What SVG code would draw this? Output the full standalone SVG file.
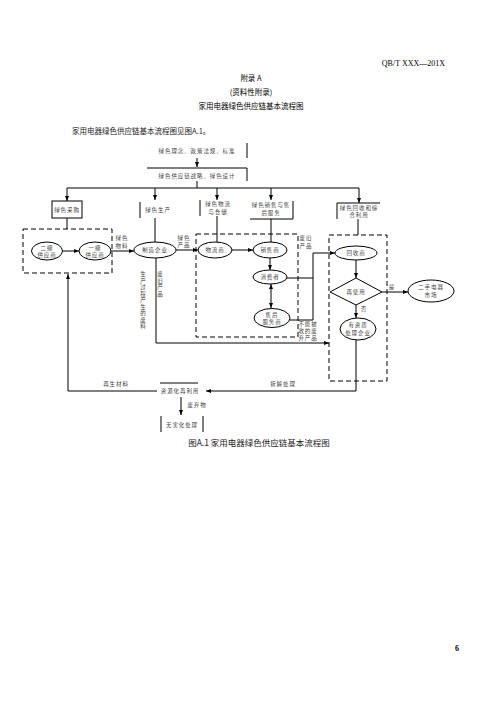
<svg xmlns="http://www.w3.org/2000/svg" width="496" height="702" viewBox="0 0 496 702">
<style>
.cj{font-family:"Noto Sans CJK SC","Noto Sans",sans-serif;}
.t{font-family:"Noto Sans CJK SC","Noto Sans",sans-serif;font-size:5.5px;letter-spacing:0.9px;fill:#444;text-anchor:middle;}
.v{font-family:"Noto Sans CJK SC","Noto Sans",sans-serif;font-size:5.5px;fill:#444;text-anchor:middle;}
.ln{stroke:#000;stroke-width:1;fill:none;}
.ds{stroke:#000;stroke-width:1;fill:none;stroke-dasharray:5,3;}
.el{stroke:#000;stroke-width:1;fill:#fff;}
.ar{marker-end:url(#ah);}
</style>
<defs>
<marker id="ah" viewBox="0 0 10 8" refX="10" refY="4" markerWidth="5" markerHeight="4" orient="auto-start-reverse" markerUnits="userSpaceOnUse"><path d="M0,0 L10,4 L0,8 z" fill="#000"/></marker>
</defs>
<rect width="496" height="702" fill="#fff"/>
<text x="445" y="66" font-family="Liberation Serif,serif" font-size="8" text-anchor="end" fill="#000">QB/T XXX—201X</text>
<g class="cj" font-size="7.5" text-anchor="middle" fill="#000">
<text x="251" y="81">附录 A</text>
<text x="251" y="95">(资料性附录)</text>
<text x="251" y="109">家用电器绿色供应链基本流程图</text>
</g>
<text class="cj" x="72" y="134" font-size="7.5" fill="#222">家用电器绿色供应链基本流程图见图A.1。</text>

<g id="connectors">
<line class="ln ar" x1="197" y1="158" x2="197" y2="167"/>
<line class="ln" x1="197" y1="181" x2="197" y2="188"/>
<line class="ln" x1="67" y1="188" x2="359" y2="188"/>
<line class="ln ar" x1="67" y1="188" x2="67" y2="201"/>
<line class="ln ar" x1="155" y1="188" x2="155" y2="200"/>
<line class="ln ar" x1="217" y1="188" x2="217" y2="200"/>
<line class="ln ar" x1="271" y1="188" x2="271" y2="200"/>
<line class="ln ar" x1="359" y1="188" x2="359" y2="203"/>
<line class="ln" x1="67" y1="218" x2="67" y2="229"/>
<line class="ln" x1="155" y1="218" x2="155" y2="242"/>
<line class="ln" x1="217" y1="216" x2="217" y2="242"/>
<line class="ln" x1="271" y1="219" x2="271" y2="242"/>
<line class="ln" x1="358" y1="219" x2="358" y2="235"/>
<line class="ln ar" x1="62.5" y1="251" x2="79" y2="251"/>
<line class="ln ar" x1="111" y1="251" x2="134" y2="251"/>
<line class="ln ar" x1="176" y1="250" x2="198" y2="250"/>
<line class="ln ar" x1="232" y1="250" x2="253" y2="250"/>
<line class="ln ar" x1="270" y1="258" x2="270" y2="270"/>
<line class="ln ar" x1="271" y1="284" x2="271" y2="308" marker-start="url(#ah)"/>
<polyline class="ln" points="287,278 313,278"/>
<polyline class="ln ar" points="290,320 313,320 313,253 335,253"/>
<polyline class="ln ar" points="156,258 156,343 329,343"/>
<line class="ln ar" x1="356" y1="260" x2="356" y2="278"/>
<line class="ln ar" x1="382" y1="292" x2="408" y2="292"/>
<line class="ln ar" x1="356" y1="305" x2="356" y2="318"/>
<polyline class="ln ar" points="356,340 356,391 206,391"/>
<polyline class="ln ar" points="157,391 68,391 68,274"/>
<line class="ln ar" x1="181" y1="397" x2="181" y2="415"/>
<g class="t">
<text x="122" y="240">绿色</text><text x="122" y="248">物料</text>
<text x="184" y="240">绿色</text><text x="184" y="247">产品</text>
<text x="306" y="240">废旧</text><text x="306" y="248">产品</text>
<text x="308" y="326">不能被</text><text x="308" y="333">收的废</text><text x="308" y="340">弃产品</text>
<text x="392" y="289">是</text>
<text x="364" y="311">否</text>
<text x="283" y="386">拆解处理</text>
<text x="116" y="386">再生材料</text>
<text x="197" y="407">废弃物</text>
</g>
<g class="v">
<text x="143" y="276">生</text><text x="143" y="282.5">产</text><text x="143" y="289">过</text><text x="143" y="295.5">程</text><text x="143" y="302">产</text><text x="143" y="308.5">生</text><text x="143" y="315">的</text><text x="143" y="321.5">废</text><text x="143" y="328">料</text>
<text x="160" y="276">废</text><text x="160" y="282.5">旧</text><text x="160" y="289">产</text><text x="160" y="295.5">品</text>
</g>
</g>

<g id="n-idea"><line class="ln" x1="247" y1="143" x2="247" y2="158"/><text class="t" x="197" y="153">绿色理念、政策法规、标准</text></g>
<g id="n-strategy"><polyline class="ln" points="147,168 247,168 247,181"/><text class="t" x="197" y="178">绿色供应链战略、绿色设计</text></g>
<g id="n-purchase"><rect class="ln" x="52" y="201" width="30" height="17"/><text class="t" x="67" y="211.5">绿色采购</text></g>
<g id="n-produce"><line class="ln" x1="140" y1="202" x2="140" y2="218"/><text class="t" x="158" y="211.5">绿色生产</text></g>
<g id="n-logistics"><line class="ln" x1="200" y1="200" x2="200" y2="216"/><text class="t" x="218" y="206">绿色物流</text><text class="t" x="218" y="214">与仓储</text></g>
<g id="n-sales"><polyline class="ln" points="250,219 293,219 293,201"/><text class="t" x="271" y="207">绿色销售与售</text><text class="t" x="271" y="215">后服务</text></g>
<g id="n-recycle"><polyline class="ln" points="337,219 337,203 380,203"/><text class="t" x="359" y="210">绿色回收和综</text><text class="t" x="359" y="217">合利用</text></g>

<g id="g-suppliers"><rect class="ds" x="23" y="229" width="89" height="44"/></g>
<g id="n-sup2"><ellipse class="el" cx="47" cy="251" rx="15.5" ry="9"/><text class="t" x="47" y="250">二级</text><text class="t" x="47" y="257">供应商</text></g>
<g id="n-sup1"><ellipse class="el" cx="95" cy="251" rx="16" ry="9"/><text class="t" x="95" y="250">一级</text><text class="t" x="95" y="257">供应商</text></g>
<g id="n-maker"><ellipse class="el" cx="155" cy="250" rx="21" ry="8"/><text class="t" x="155" y="252">制造企业</text></g>

<g id="g-market"><rect class="ds" x="196" y="234" width="102" height="103"/></g>
<g id="n-logis"><ellipse class="el" cx="215" cy="250" rx="17" ry="8"/><text class="t" x="215" y="252">物流商</text></g>
<g id="n-seller"><ellipse class="el" cx="270" cy="250" rx="17" ry="8"/><text class="t" x="270" y="252">销售商</text></g>
<g id="n-consumer"><ellipse class="el" cx="270" cy="277" rx="17" ry="7"/><text class="t" x="270" y="279">消费者</text></g>
<g id="n-service"><ellipse class="el" cx="272" cy="318" rx="18" ry="9.5"/><text class="t" x="272" y="316.5">售后</text><text class="t" x="272" y="324">服务商</text></g>

<g id="g-recycling"><rect class="ds" x="329" y="235" width="58" height="146"/></g>
<g id="n-collector"><ellipse class="el" cx="356" cy="253" rx="21" ry="7"/><text class="t" x="356" y="255">回收商</text></g>
<g id="n-reuse"><polygon class="el" points="356,278 382,292 356,305 330,292"/><text class="t" x="356" y="294">再使用</text></g>
<g id="n-second"><ellipse class="el" cx="431" cy="291" rx="23" ry="11"/><text class="t" x="431" y="289">二手电器</text><text class="t" x="431" y="296.5">市场</text></g>
<g id="n-dispose"><ellipse class="el" cx="358" cy="329" rx="18" ry="11"/><text class="t" x="358" y="327">有资质</text><text class="t" x="358" y="334.5">处理企业</text></g>

<g id="n-resource"><line class="ln" x1="160" y1="383" x2="198" y2="383"/><text class="t" x="180" y="393">资源化再利用</text></g>
<g id="n-harmless"><line class="ln" x1="161" y1="416" x2="161" y2="432"/><line class="ln" x1="203" y1="416" x2="203" y2="432"/><text class="t" x="182" y="426.5">无害化处理</text></g>

<text class="cj" x="259" y="446" font-size="8.5" text-anchor="middle" fill="#222">图A.1  家用电器绿色供应链基本流程图</text>
<text x="455" y="651" font-family="Liberation Serif,serif" font-size="8" font-weight="bold" fill="#000">6</text>
</svg>
